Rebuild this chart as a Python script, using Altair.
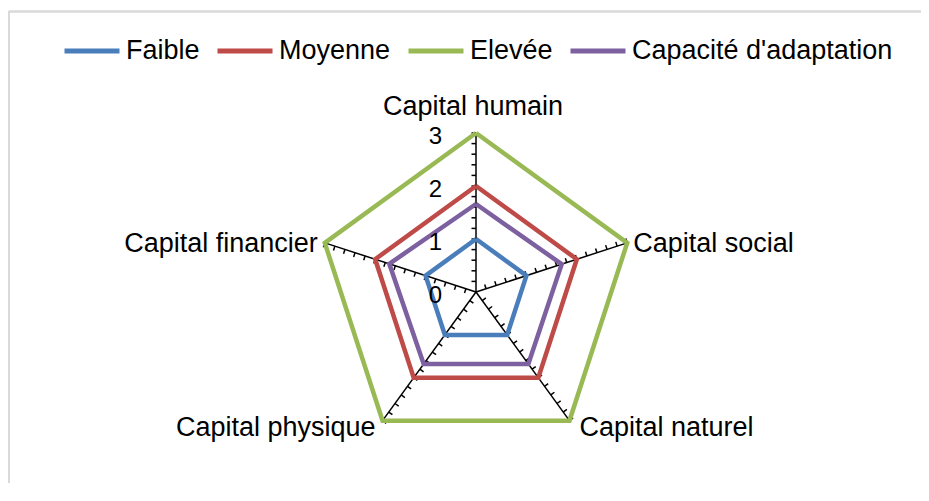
import altair as alt
import pandas as pd

categories = ["Capital humain", "Capital social", "Capital naturel",
              "Capital physique", "Capital financier"]
series_names = ["Faible", "Moyenne", "Elevée", "Capacité d'adaptation"]
faible = [1, 1, 1, 1, 1]
moyenne = [2, 2, 2, 2, 2]
elevee = [3, 3, 3, 3, 3]
capacite = [1.66, 1.70, 1.68, 1.68, 1.72]
axis_labels = [0, 1, 2, 3]
minor_ticks = [0.2, 0.4, 0.6, 0.8, 1.0, 1.2, 1.4, 1.6, 1.8, 2.0,
               2.2, 2.4, 2.6, 2.8, 3.0]
colors = ["#4a7ebb", "#be4b48", "#98b954", "#7d60a0"]

FONT = "Liberation Sans"
N = len(categories)

# series polygons (closed)
rows = []
for name, vals in zip(series_names, [faible, moyenne, elevee, capacite]):
    for k in range(N + 1):
        i = k % N
        rows.append({"series": name, "idx": i, "ord": k, "v": vals[i]})
series_df = pd.DataFrame(rows)

spokes_df = pd.DataFrame({"idx": list(range(N)), "cat": categories, "r": [3] * N})
ticks_df = pd.DataFrame([{"idx": i, "v": t} for i in range(N) for t in minor_ticks])
axlab_df = pd.DataFrame({"v": axis_labels, "lab": [str(a) for a in axis_labels]})

xs = alt.Scale(domain=[-3, 3], range=[309, 627], nice=False, zero=False)
ys = alt.Scale(domain=[-3, 3], range=[443, 125], nice=False, zero=False)

theta = "PI/2 - datum.idx*2*PI/5"

spokes = alt.Chart(spokes_df).transform_calculate(
    t=theta
).transform_calculate(
    x0="0", y0="0", x1="datum.r*cos(datum.t)", y1="datum.r*sin(datum.t)"
).mark_rule(color="black", strokeWidth=1.5).encode(
    x=alt.X("x0:Q", scale=xs, axis=None),
    y=alt.Y("y0:Q", scale=ys, axis=None),
    x2="x1:Q", y2="y1:Q",
)

L = 0.085
ticks = alt.Chart(ticks_df).transform_calculate(
    t=theta
).transform_calculate(
    xa="datum.v*cos(datum.t)", ya="datum.v*sin(datum.t)"
).transform_calculate(
    xb=f"datum.xa - {L}*sin(datum.t)", yb=f"datum.ya + {L}*cos(datum.t)"
).mark_rule(color="black", strokeWidth=1.5).encode(
    x=alt.X("xa:Q", scale=xs, axis=None),
    y=alt.Y("ya:Q", scale=ys, axis=None),
    x2="xb:Q", y2="yb:Q",
)

lines = alt.Chart(series_df).transform_calculate(
    t=theta
).transform_calculate(
    px="datum.v*cos(datum.t)", py="datum.v*sin(datum.t)"
).mark_line(strokeWidth=4.5, strokeJoin="miter", strokeCap="butt").encode(
    x=alt.X("px:Q", scale=xs, axis=None),
    y=alt.Y("py:Q", scale=ys, axis=None),
    color=alt.Color(
        "series:N",
        scale=alt.Scale(domain=series_names, range=colors),
        sort=series_names,
        legend=alt.Legend(
            title=None, orient="none", direction="horizontal",
            legendX=54, legendY=13,
            symbolType="stroke", symbolSize=3025, symbolStrokeWidth=5,
            labelFont=FONT, labelFontSize=27, labelColor="black",
            labelOffset=4, columnPadding=7, labelLimit=500,
        ),
    ),
    detail="series:N",
    order=alt.Order("ord:Q"),
)

axlabels = alt.Chart(axlab_df).transform_calculate(x0="0").mark_text(
    font=FONT, fontSize=24, align="right", baseline="middle", dx=-34, dy=4, color="black"
).encode(
    x=alt.X("x0:Q", scale=xs, axis=None),
    y=alt.Y("v:Q", scale=ys, axis=None),
    text="lab:N",
)

label_style = {
    0: dict(align="center", dx=-3, dy=-26),
    1: dict(align="left", dx=6, dy=1),
    2: dict(align="left", dx=10, dy=7),
    3: dict(align="right", dx=-7, dy=7),
    4: dict(align="right", dx=-7, dy=1),
}
cat_layers = []
for i, st in label_style.items():
    cat_layers.append(
        alt.Chart(spokes_df).transform_filter(f"datum.idx == {i}").transform_calculate(
            t=theta
        ).transform_calculate(
            lx="datum.r*cos(datum.t)", ly="datum.r*sin(datum.t)"
        ).mark_text(
            font=FONT, fontSize=27, baseline="middle", color="black", **st
        ).encode(
            x=alt.X("lx:Q", scale=xs, axis=None),
            y=alt.Y("ly:Q", scale=ys, axis=None),
            text="cat:N",
        )
    )

# chart frame (top and left edges visible in the reference)
frame_top = alt.Chart(spokes_df).mark_rule(color="#d9d9d9", strokeWidth=1.5).encode(
    y=alt.value(3.5), x=alt.value(0.75), x2=alt.value(913)
)
frame_left = alt.Chart(spokes_df).mark_rule(color="#d9d9d9", strokeWidth=1.5).encode(
    x=alt.value(0.75), y=alt.value(3.5), y2=alt.value(475)
)

chart = alt.layer(
    frame_top, frame_left, spokes, ticks, lines, axlabels, *cat_layers
).properties(
    width=913, height=475,
    autosize=alt.AutoSizeParams(type="none"),
    padding=0,
).configure(
    background="white",
    view=alt.ViewConfig(stroke=None, strokeWidth=0),
)

chart.save("out.html", embed_options={"renderer": "svg", "actions": False})
